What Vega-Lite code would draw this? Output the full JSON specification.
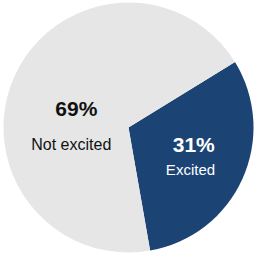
{
  "$schema": "https://vega.github.io/schema/vega-lite/v6.json",
  "width": 257,
  "height": 258,
  "autosize": {"type": "fit", "contains": "padding"},
  "padding": {"left": 0, "right": 0, "top": 0, "bottom": 3},
  "background": "white",
  "view": {"stroke": null},
  "data": {"values": [
    {"label": "Excited", "value": 31, "pct": "31%"},
    {"label": "Not excited", "value": 69, "pct": "69%"}
  ]},
  "encoding": {
    "theta": {"field": "value", "type": "quantitative", "stack": true, "scale": {"range": [1.02, 7.3032]}},
    "order": {"field": "value", "type": "quantitative", "sort": "ascending"}
  },
  "layer": [
    {
      "mark": {"type": "arc", "radius": 125, "stroke": null},
      "encoding": {
        "color": {"field": "label", "type": "nominal", "legend": null,
          "scale": {"domain": ["Excited", "Not excited"], "range": ["#1b4474", "#e6e6e6"]}}
      }
    },
    {
      "mark": {"type": "text", "radius": 60, "dx": 2.5, "dy": 13, "font": "Liberation Sans", "fontSize": 21, "fontWeight": "bold", "fill": "#111111", "align": "center", "baseline": "alphabetic"},
      "encoding": {"text": {"condition": {"test": "datum.label === 'Not excited'", "field": "pct"}, "value": ""}}
    },
    {
      "mark": {"type": "text", "radius": 60, "dx": -2.5, "dy": 47, "font": "Liberation Sans", "fontSize": 16, "fill": "#111111", "align": "center", "baseline": "alphabetic"},
      "encoding": {"text": {"condition": {"test": "datum.label === 'Not excited'", "field": "label"}, "value": ""}}
    },
    {
      "mark": {"type": "text", "radius": 65, "dx": 6, "dy": -2, "font": "Liberation Sans", "fontSize": 21, "fontWeight": "bold", "fill": "#ffffff", "align": "center", "baseline": "alphabetic"},
      "encoding": {"text": {"condition": {"test": "datum.label === 'Excited'", "field": "pct"}, "value": ""}}
    },
    {
      "mark": {"type": "text", "radius": 65, "dx": 2.7, "dy": 21, "font": "Liberation Sans", "fontSize": 15, "fill": "#ffffff", "align": "center", "baseline": "alphabetic"},
      "encoding": {"text": {"condition": {"test": "datum.label === 'Excited'", "field": "label"}, "value": ""}}
    }
  ]
}
